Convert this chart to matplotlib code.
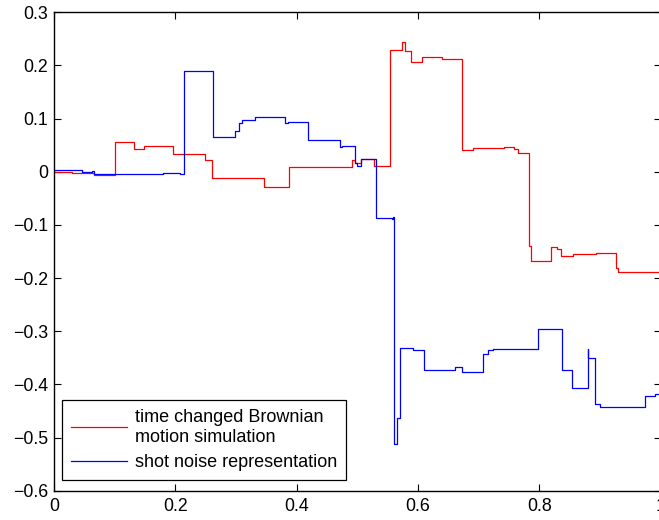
"""Time changed Brownian motion vs shot noise representation (step paths)."""

import matplotlib
import numpy as np

matplotlib.rcParams["font.family"] = ["Liberation Sans", "DejaVu Sans"]
matplotlib.rcParams["font.size"] = 12

import matplotlib.pyplot as plt  # noqa: E402
from matplotlib.ticker import FuncFormatter  # noqa: E402

# step breakpoints; value y[i] holds from x[i] to x[i+1]
red_x = [0.0, 0.03, 0.066, 0.1005, 0.132, 0.148, 0.196, 0.249, 0.26, 0.347,
         0.388, 0.492, 0.497, 0.506, 0.527, 0.554, 0.574, 0.579, 0.588, 0.606,
         0.64, 0.673, 0.691, 0.741, 0.758, 0.765, 0.783, 0.787, 0.819, 0.829,
         0.835, 0.856, 0.894, 0.926, 0.930, 1.0]
red_y = [0.0, -0.002, -0.006, 0.056, 0.043, 0.049, 0.033, 0.022, -0.011, -0.028,
         0.009, 0.022, 0.017, 0.024, 0.010, 0.229, 0.245, 0.227, 0.206, 0.216,
         0.212, 0.041, 0.044, 0.047, 0.043, 0.035, -0.139, -0.167, -0.141, -0.145,
         -0.158, -0.155, -0.153, -0.181, -0.189, -0.189]

blue_x = [0.0, 0.046, 0.062, 0.066, 0.18, 0.207, 0.214, 0.262, 0.298, 0.305,
          0.31, 0.331, 0.381, 0.385, 0.419, 0.471, 0.475, 0.496, 0.499, 0.506,
          0.531, 0.557, 0.559, 0.560, 0.565, 0.570, 0.591, 0.610, 0.661, 0.672,
          0.708, 0.716, 0.724, 0.798, 0.837, 0.854, 0.880, 0.881, 0.892, 0.900,
          0.974, 0.991, 1.0]
blue_y = [0.004, -0.001, 0.002, -0.005, -0.003, -0.005, 0.19, 0.066, 0.076, 0.092,
          0.098, 0.103, 0.091, 0.093, 0.060, 0.047, 0.049, 0.016, 0.010, 0.024,
          -0.086, -0.089, -0.085, -0.513, -0.463, -0.332, -0.336, -0.372, -0.368, -0.377,
          -0.342, -0.336, -0.333, -0.296, -0.372, -0.406, -0.333, -0.350, -0.437, -0.442,
          -0.421, -0.418, -0.418]

red_label = "time changed Brownian\nmotion simulation"
blue_label = "shot noise representation"

x_ticks = [0, 0.2, 0.4, 0.6, 0.8, 1.0]
y_ticks = [-0.6, -0.5, -0.4, -0.3, -0.2, -0.1, 0, 0.1, 0.2, 0.3]


def tick_fmt(v, _pos):
    s = f"{v:g}"
    return s.replace("-", "\u2212")


fig = plt.figure(figsize=(6.59, 5.2), dpi=100)
ax = fig.add_axes([0.0819, 0.0563, 0.9206, 0.92])

ax.step(red_x, red_y, where="post", color="red", linewidth=0.9, label=red_label)
ax.step(blue_x, blue_y, where="post", color="blue", linewidth=0.9, label=blue_label)

ax.set_xlim(0, 1)
ax.set_ylim(-0.6, 0.3)
ax.set_xticks(x_ticks)
ax.set_yticks(y_ticks)
ax.xaxis.set_major_formatter(FuncFormatter(tick_fmt))
ax.yaxis.set_major_formatter(FuncFormatter(tick_fmt))
ax.tick_params(direction="in", length=5, width=0.8, top=True, right=True,
               labelsize=12.8)
ax.tick_params(axis="x", pad=5)
ax.tick_params(axis="y", pad=4)
for sp in ax.spines.values():
    sp.set_linewidth(1.0)

leg = ax.legend(loc="lower left", bbox_to_anchor=(0.0137, 0.0224),
                borderaxespad=0, fontsize=13.0, handlelength=3.1,
                handletextpad=0.4, borderpad=0.5, labelspacing=0.45,
                fancybox=False, framealpha=1, edgecolor="black")
leg.get_frame().set_linewidth(0.9)
for t in leg.get_texts():
    t.set_linespacing(1.25)

fig.savefig("out.png", dpi=100)
